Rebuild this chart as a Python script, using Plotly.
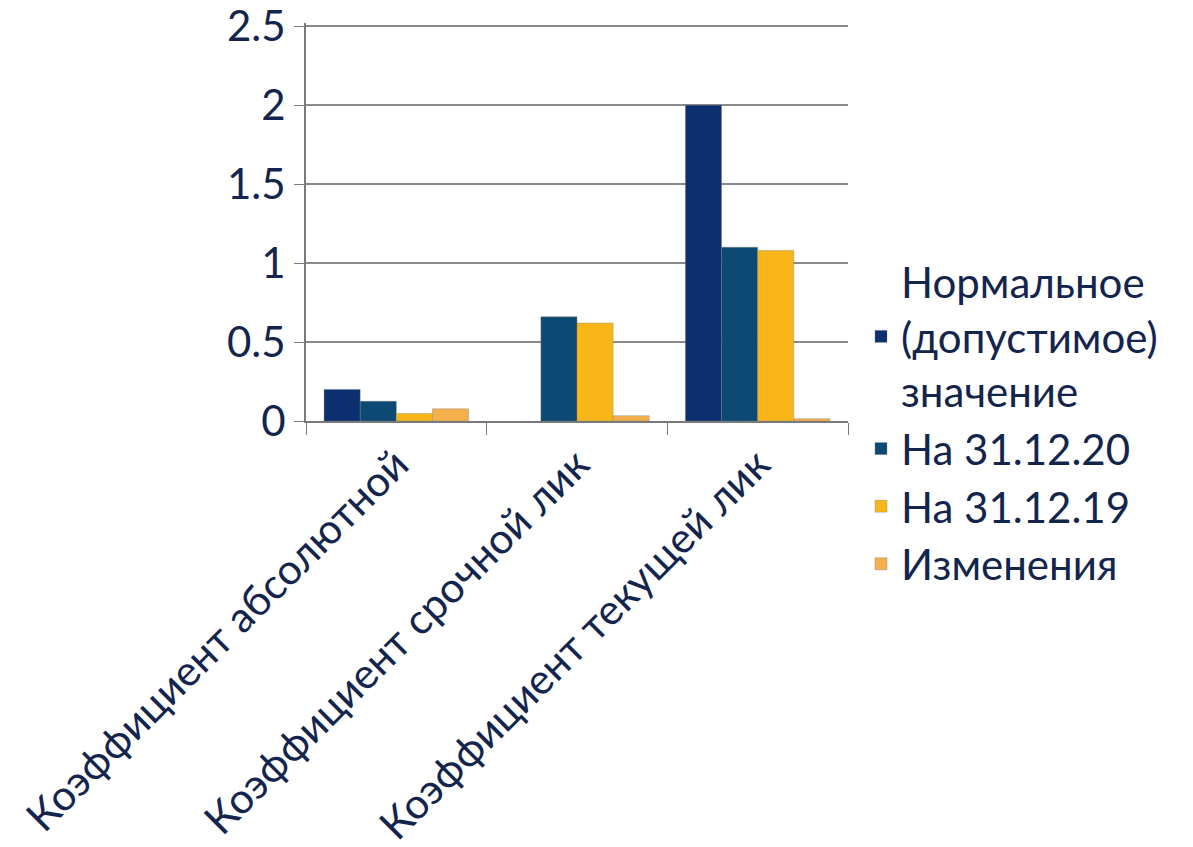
import plotly.graph_objects as go

categories = ["Коэффициент абсолютной", "Коэффициент срочной лик", "Коэффициент текущей лик"]
series_names = ["Нормальное<br>(допустимое)<br>значение", "На 31.12.20", "На 31.12.19", "Изменения"]
normal_vals = [0.2, None, 2.0]
v2020 = [0.125, 0.66, 1.10]
v2019 = [0.047, 0.62, 1.08]
changes = [0.077, 0.034, 0.015]
colors = ["#0B2F6F", "#0C4A73", "#F8B618", "#F3B04D"]
y_ticks = [0, 0.5, 1, 1.5, 2, 2.5]
y_tick_labels = ["0", "0.5", "1", "1.5", "2", "2.5"]

text_color = "#14254D"
font_family = "Lato, 'Open Sans', sans-serif"

fig = go.Figure()
for name, vals, col in zip(series_names, [normal_vals, v2020, v2019, changes], colors):
    fig.add_trace(go.Bar(
        x=categories, y=vals, name=name,
        marker=dict(color=col, line=dict(color="rgba(120,120,120,0.35)", width=1)),
    ))

fig.update_layout(
    width=1185, height=839,
    paper_bgcolor="white", plot_bgcolor="white",
    margin=dict(l=298, r=345, t=15, b=426, autoexpand=False),
    barmode="group", bargap=0.2, bargroupgap=0,
    font=dict(family=font_family, color=text_color),
    showlegend=True,
    legend=dict(
        x=1.024, xref="paper", y=-0.005, xanchor="left", yanchor="middle",
        bgcolor="rgba(0,0,0,0)",
        font=dict(size=42, color=text_color, family=font_family),
        itemwidth=30, valign="middle", tracegroupgap=0,
    ),
    xaxis=dict(
        type="category", tickangle=-45, ticks="outside", tickson="boundaries",
        ticklen=12, tickcolor="#7A7A7A", showline=True, linecolor="#7A7A7A",
        linewidth=2, tickfont=dict(size=42, color=text_color, family=font_family),
        showgrid=False, automargin=False,
    ),
    yaxis=dict(
        range=[0, 2.52], tickvals=y_ticks, ticktext=y_tick_labels,
        ticks="outside", ticklen=10, tickcolor="#7A7A7A",
        showline=True, linecolor="#7A7A7A", linewidth=2,
        showgrid=True, gridcolor="#8A8A8A", gridwidth=2,
        zeroline=False, automargin=False, ticklabeloverflow="allow",
        tickfont=dict(size=42, color=text_color, family=font_family),
    ),
)

fig.write_html("out.html")
